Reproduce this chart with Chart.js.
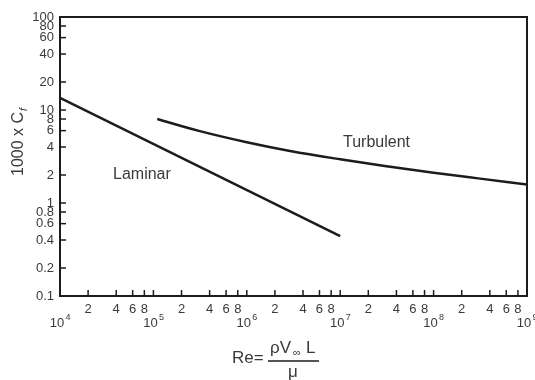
<!DOCTYPE html>
<html>
<head>
<meta charset="utf-8">
<script src="https://cdn.jsdelivr.net/npm/chart.js@4/dist/chart.umd.min.js"></script>
<style>
  html, body { margin: 0; padding: 0; background: #fff; }
  #wrap { width: 535px; height: 380px; }
</style>
</head>
<body>
<div id="wrap"><canvas id="cf"></canvas></div>
<script>
// values (Re, 1000 x Cf)
const laminarRe = [1e4, 1e7];
const laminarCf = [13.5, 0.44];
const turbulentRe = [1.1e5, 3e5, 1e6, 3e6, 1e7, 3e7, 1e8, 3e8, 1e9];
const turbulentCf = [8.0, 6.0, 4.5, 3.6, 2.95, 2.5, 2.12, 1.84, 1.58];

const yTicks = [0.1, 0.2, 0.4, 0.6, 0.8, 1, 2, 4, 6, 8, 10, 20, 40, 60, 80, 100];
const yLabels = ['0.1', '0.2', '0.4', '0.6', '0.8', '1', '2', '4', '6', '8', '10', '20', '40', '60', '80', '100'];
const xDecades = [4, 5, 6, 7, 8, 9];
const xMinor = [2, 4, 6, 8];

const ink = '#1c1c1c';
const textInk = '#3a3a3a';
const font = '"Liberation Sans", Arial, sans-serif';

function pts(xs, ys) {
  return xs.map((x, i) => ({ x: x, y: ys[i] }));
}

// frame, inward ticks, tick labels and titles
const axesPlugin = {
  id: 'axesPlugin',
  afterDatasetsDraw(chart) {
    const ctx = chart.ctx;
    const a = chart.chartArea;
    const xs = chart.scales.x;
    const ys = chart.scales.y;
    ctx.save();
    ctx.strokeStyle = ink;
    ctx.lineWidth = 2;
    ctx.strokeRect(a.left, a.top, a.right - a.left, a.bottom - a.top);

    // y ticks
    ctx.lineWidth = 1.5;
    ctx.fillStyle = textInk;
    ctx.font = '13px ' + font;
    ctx.textAlign = 'right';
    ctx.textBaseline = 'middle';
    yTicks.forEach((v, i) => {
      const py = ys.getPixelForValue(v);
      ctx.beginPath();
      ctx.moveTo(a.left, py);
      ctx.lineTo(a.left + 6, py);
      ctx.stroke();
      ctx.fillText(yLabels[i], a.left - 6, py);
    });

    // x ticks
    ctx.textAlign = 'center';
    xDecades.forEach((d, k) => {
      const base = Math.pow(10, d);
      const px = xs.getPixelForValue(base);
      ctx.beginPath();
      ctx.moveTo(px, a.bottom);
      ctx.lineTo(px, a.bottom - 6);
      ctx.stroke();
      ctx.font = '13px ' + font;
      ctx.fillText('10', px - 3, a.bottom + 27);
      ctx.font = '9px ' + font;
      ctx.fillText(String(d), px + 8, a.bottom + 22);
      if (k < xDecades.length - 1) {
        xMinor.forEach(m => {
          const mx = xs.getPixelForValue(m * base);
          ctx.beginPath();
          ctx.moveTo(mx, a.bottom);
          ctx.lineTo(mx, a.bottom - 6);
          ctx.stroke();
          ctx.font = '13px ' + font;
          ctx.fillText(String(m), mx, a.bottom + 13);
        });
      }
    });

    // curve labels
    ctx.font = '16px ' + font;
    ctx.textAlign = 'left';
    ctx.fillText('Laminar', 113, 175);
    ctx.fillText('Turbulent', 343, 143);

    // y title
    ctx.save();
    ctx.translate(19, 140);
    ctx.rotate(-Math.PI / 2);
    ctx.textAlign = 'center';
    ctx.font = '16px ' + font;
    ctx.fillText('1000 x C', -4, 0);
    const w = ctx.measureText('1000 x C').width;
    ctx.font = 'italic 11px ' + font;
    ctx.textAlign = 'left';
    ctx.fillText('f', -4 + w / 2 + 1, 5);
    ctx.restore();

    // x title
    ctx.font = '17px ' + font;
    ctx.textAlign = 'left';
    ctx.fillText('Re=', 232, 358);
    ctx.fillText('\u03C1V', 270, 348);
    ctx.font = '11px ' + font;
    ctx.fillText('\u221E', 293, 353);
    ctx.font = '17px ' + font;
    ctx.fillText('L', 306, 348);
    ctx.fillText('\u03BC', 288, 372);
    ctx.lineWidth = 1.5;
    ctx.beginPath();
    ctx.moveTo(268, 361);
    ctx.lineTo(319, 361);
    ctx.stroke();
    ctx.restore();
  }
};

new Chart(document.getElementById('cf'), {
  type: 'line',
  data: {
    datasets: [
      {
        label: 'Laminar',
        data: pts(laminarRe, laminarCf),
        borderColor: ink,
        borderWidth: 2.5,
        pointRadius: 0,
        fill: false
      },
      {
        label: 'Turbulent',
        data: pts(turbulentRe, turbulentCf),
        borderColor: ink,
        borderWidth: 2.5,
        pointRadius: 0,
        cubicInterpolationMode: 'monotone',
        fill: false
      }
    ]
  },
  options: {
    responsive: true,
    maintainAspectRatio: false,
    animation: false,
    layout: { padding: { left: 60, right: 8, top: 17, bottom: 84 } },
    plugins: {
      legend: { display: false },
      tooltip: { enabled: false }
    },
    scales: {
      x: { type: 'logarithmic', min: 1e4, max: 1e9, display: false },
      y: { type: 'logarithmic', min: 0.1, max: 100, display: false }
    }
  },
  plugins: [axesPlugin]
});
</script>
</body>
</html>
